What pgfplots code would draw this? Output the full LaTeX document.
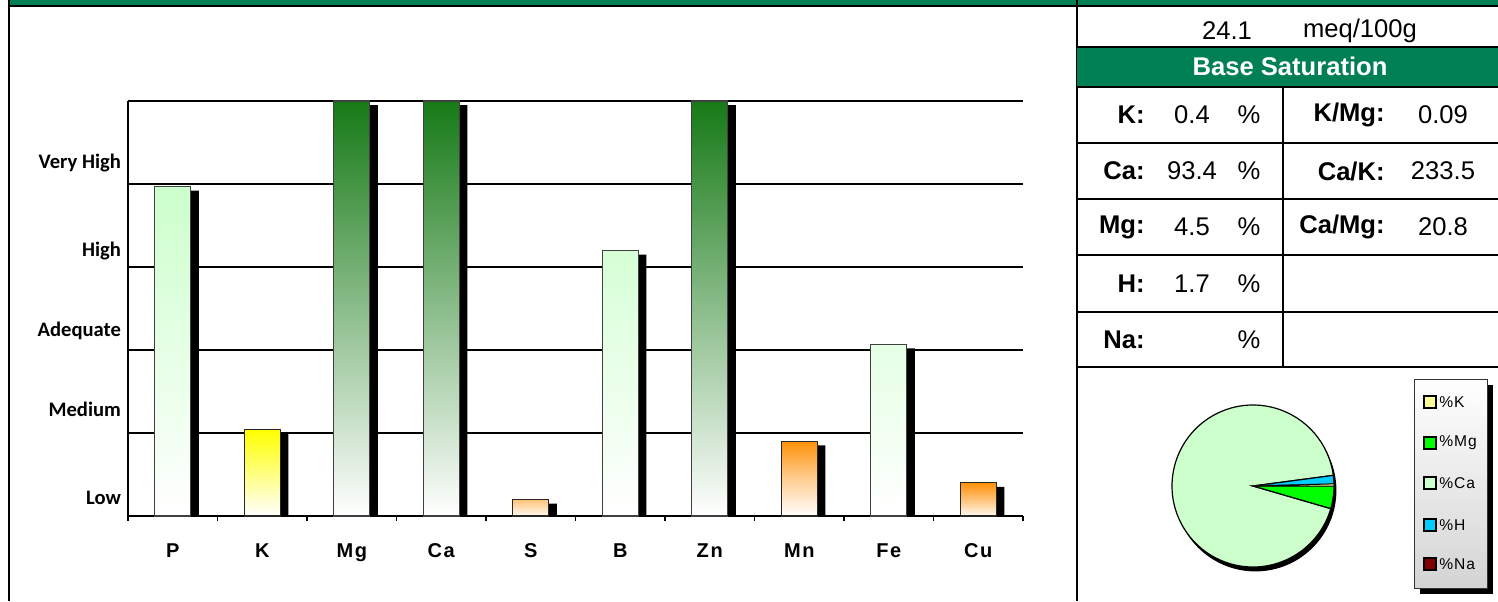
\documentclass[border=0pt]{standalone}
\usepackage{fontspec}
\setmainfont{Liberation Sans}
\newfontfamily\calibri{Carlito}
\usepackage{pgfplots}
\pgfplotsset{compat=1.18}
\definecolor{band}{RGB}{0,128,84}
\definecolor{dkgreen}{RGB}{22,122,22}
\definecolor{ltgreen}{RGB}{204,255,204}
\definecolor{ylw}{RGB}{255,255,0}
\definecolor{orng}{RGB}{255,145,10}
\definecolor{pK}{RGB}{255,255,153}
\definecolor{pMg}{RGB}{0,255,0}
\definecolor{pCa}{RGB}{204,255,204}
\definecolor{pH}{RGB}{0,204,255}
\definecolor{pNa}{RGB}{128,0,0}
\begin{document}
\begin{tikzpicture}
\useasboundingbox (0,0) rectangle (749pt,-300.5pt);
% ---------- frame and table (coordinates in image pixels) ----------
\begin{scope}[x=0.5pt,y=-0.5pt]
  \fill[band] (8,0) rectangle (1498,5);
  \draw[line width=1.1pt] (8,6) -- (1498,6);
  \draw[line width=1.4pt] (9,0) -- (9,601);
  \draw[line width=1.4pt] (1077,0) -- (1077,601);
  \fill[band] (1077,47) rectangle (1498,86);
  \foreach \yy in {47,87,143,199,255,312,367}
    \draw[line width=1.25pt] (1077,\yy) -- (1498,\yy);
  \draw[line width=1.25pt] (1283,87) -- (1283,367);
  \begin{scope}[every node/.style={font=\fontsize{12.8}{15}\selectfont, inner sep=0pt}]
    \node at (1227,31) {24.1};
    \node at (1360,31) {meq/100g};
    \node[text=white, font=\bfseries\fontsize{12.8}{15}\selectfont] at (1290,66) {Base Saturation};
    \node[anchor=east, font=\bfseries\fontsize{12.8}{15}\selectfont] at (1145,115) {K:};
    \node[anchor=east, font=\bfseries\fontsize{12.8}{15}\selectfont] at (1145,171) {Ca:};
    \node[anchor=east, font=\bfseries\fontsize{12.8}{15}\selectfont] at (1145,227) {Mg:};
    \node[anchor=east, font=\bfseries\fontsize{12.8}{15}\selectfont] at (1145,283.5) {H:};
    \node[anchor=east, font=\bfseries\fontsize{12.8}{15}\selectfont] at (1145,339.5) {Na:};
    \node at (1192,115) {0.4};
    \node at (1192,171) {93.4};
    \node at (1192,227) {4.5};
    \node at (1192,283.5) {1.7};
    \foreach \yy in {115,171,227,283.5,339.5} \node at (1249,\yy) {\%};
    \node[anchor=east, font=\bfseries\fontsize{12.8}{15}\selectfont] at (1385,115) {K/Mg:};
    \node[anchor=east, font=\bfseries\fontsize{12.8}{15}\selectfont] at (1385,171) {Ca/K:};
    \node[anchor=east, font=\bfseries\fontsize{12.8}{15}\selectfont] at (1385,227) {Ca/Mg:};
    \node at (1443,115) {0.09};
    \node at (1443,171) {233.5};
    \node at (1443,227) {20.8};
  \end{scope}
  % pie legend
  \fill[black] (1420,385) rectangle (1493,594);
  \shade[top color=white, bottom color=black!17, draw=black!80, line width=0.5pt] (1414,379) rectangle (1487,588);
  \foreach \yy/\cc/\tt in {402/pK/K, 443/pMg/Mg, 483/pCa/Ca, 525/pH/H, 564/pNa/Na}{
    \filldraw[fill=\cc, draw=black, line width=0.6pt] (1424,\yy-6) rectangle (1436,\yy+6);
    \node[anchor=west, inner sep=0pt, font=\addfontfeature{LetterSpace=6}\fontsize{7.8}{9}\selectfont] at (1439,\yy) {\%\tt};
  }
\end{scope}
% ---------- bar chart ----------
\begin{axis}[
  at={(64pt,-258pt)}, anchor=south west,
  scale only axis, width=447.5pt, height=207.5pt,
  xmin=0.5, xmax=10.5, ymin=0, ymax=5,
  axis x line*=bottom, axis y line*=left,
  axis line style={-, line width=0.8pt},
  xtick={1,...,10}, xticklabels={P,K,Mg,Ca,S,B,Zn,Mn,Fe,Cu},
  major x tick style={draw=none},
  minor xtick={0.5,1.5,...,10.5},
  minor x tick style={line width=0.8pt, black},
  minor tick length=2.5pt,
  tick align=outside,
  ytick={0,...,5}, yticklabels={}, ymajorgrids,
  ytick style={draw=none},
  grid style={black, line width=0.75pt},
  extra y ticks={0.22,1.28,2.23,3.19,4.25},
  extra y tick labels={Low,Medium,Adequate,High,Very High},
  extra y tick style={grid=none, major tick length=0pt,
    yticklabel style={font=\calibri\bfseries\fontsize{10.3}{12}\selectfont}},
  xticklabel style={font=\bfseries\addfontfeature{LetterSpace=8}\fontsize{10}{12}\selectfont, yshift=-6pt},
  clip=false,
]
\addplot[ybar, bar width=18pt, bar shift=4pt, fill=black, draw=none] coordinates
  {(1,3.92) (2,0.99) (3,4.95) (4,4.95) (5,0.15) (6,3.15) (7,4.95) (8,0.85) (9,2.02) (10,0.35)};
\addplot[ybar, bar width=18pt, bar shift=0pt, top color=ltgreen, bottom color=white, draw=black!75, line width=0.6pt] coordinates
  {(1,3.97) (6,3.2) (9,2.07)};
\addplot[ybar, bar width=18pt, bar shift=0pt, top color=dkgreen, bottom color=white, draw=black!75, line width=0.6pt] coordinates
  {(3,5) (4,5) (7,5)};
\addplot[ybar, bar width=18pt, bar shift=0pt, top color=ylw, bottom color=white, draw=black!85, line width=0.6pt] coordinates
  {(2,1.04)};
\addplot[ybar, bar width=18pt, bar shift=0pt, top color=orng, bottom color=white, middle color=orng!45, draw=black!85, line width=0.6pt] coordinates
  {(8,0.9)};
\addplot[ybar, bar width=18pt, bar shift=0pt, top color=orng, bottom color=orng!5, middle color=orng!55, draw=black!85, line width=0.6pt] coordinates
  {(5,0.2) (10,0.4)};
\end{axis}
% ---------- pie chart ----------
\def\vK{0.4}\def\vMg{4.5}\def\vCa{93.4}\def\vH{1.7}\def\vNa{0}
\pgfmathsetmacro\aA{\vK*3.6}
\pgfmathsetmacro\aB{\aA-\vK*3.6}
\pgfmathsetmacro\aC{\aB-\vMg*3.6}
\pgfmathsetmacro\aD{\aC-\vCa*3.6}
\pgfmathsetmacro\aE{\aD-\vH*3.6}
\begin{axis}[
  at={(626.5pt,-243pt)}, anchor=center,
  scale only axis, width=81pt, height=81pt,
  xmin=-1, xmax=1, ymin=-1, ymax=1, hide axis, clip=false,
]
\fill[black] ([shift={(1.2pt,-2.2pt)}]axis cs:0,0) circle[radius=40.5pt];
\filldraw[fill=pCa, draw=black, line width=0.6pt] (axis cs:0,0) -- ([shift={(\aC:40.5pt)}]axis cs:0,0) arc[start angle=\aC, end angle=\aD, radius=40.5pt] -- cycle;
\filldraw[fill=pMg, draw=black, line width=0.6pt] (axis cs:0,0) -- ([shift={(\aB:40.5pt)}]axis cs:0,0) arc[start angle=\aB, end angle=\aC, radius=40.5pt] -- cycle;
\filldraw[fill=pH, draw=black, line width=0.6pt] (axis cs:0,0) -- ([shift={(\aD:40.5pt)}]axis cs:0,0) arc[start angle=\aD, end angle=\aE, radius=40.5pt] -- cycle;
\filldraw[fill=pK, draw=black, line width=0.4pt] (axis cs:0,0) -- ([shift={(\aA:40.5pt)}]axis cs:0,0) arc[start angle=\aA, end angle=\aB, radius=40.5pt] -- cycle;
\end{axis}
\end{tikzpicture}
\end{document}
